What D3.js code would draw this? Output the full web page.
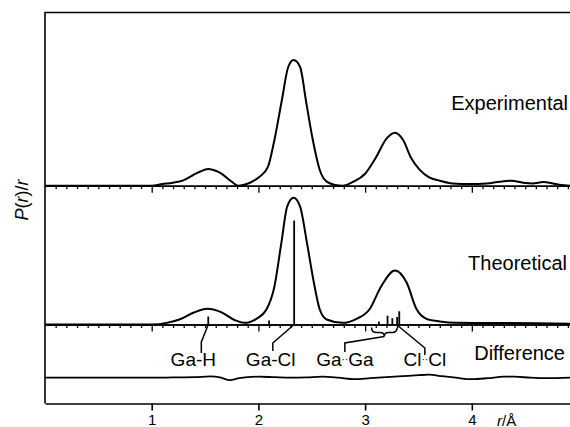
<!DOCTYPE html>
<html>
<head>
<meta charset="utf-8">
<script src="https://cdn.jsdelivr.net/npm/d3@7"></script>
<style>
  body { margin: 0; background: #fff; }
  svg text { font-family: "Liberation Sans", Arial, sans-serif; fill: #000; }
</style>
</head>
<body>
<div id="chart"></div>
<script>
"use strict";

// data (r in Angstrom, P(r)/r relative to main Ga-Cl peak)
var experimental = [
  [0.00, 0], [0.50, 0], [1.00, 0], [1.10, 0.013], [1.20, 0.024], [1.29, 0.040],
  [1.39, 0.085], [1.45, 0.111], [1.53, 0.133], [1.60, 0.119], [1.65, 0.098],
  [1.75, 0.032], [1.81, 0.000], [1.89, 0.013], [1.95, 0.036], [2.01, 0.071],
  [2.09, 0.151], [2.15, 0.363], [2.22, 0.680], [2.28, 0.944], [2.33, 0.998],
  [2.39, 0.944], [2.45, 0.651], [2.51, 0.363], [2.575, 0.125], [2.64, 0.032],
  [2.72, 0.006], [2.79, 0.000], [2.89, 0.032], [3.00, 0.095], [3.10, 0.222],
  [3.20, 0.373], [3.28, 0.421], [3.355, 0.365], [3.43, 0.222], [3.51, 0.127],
  [3.60, 0.066], [3.70, 0.040], [3.82, 0.018], [3.98, 0.013], [4.14, 0.018],
  [4.26, 0.032], [4.37, 0.040], [4.48, 0.024], [4.57, 0.018], [4.67, 0.029],
  [4.76, 0.018], [4.82, 0.008], [4.92, 0]
];

var theoretical = [
  [0.00, 0], [1.00, 0], [1.14, 0.013], [1.26, 0.040], [1.39, 0.093], [1.52, 0.125],
  [1.65, 0.098], [1.78, 0.034], [1.87, 0.013], [1.98, 0.045], [2.075, 0.119],
  [2.15, 0.302], [2.215, 0.648], [2.27, 0.937], [2.33, 1.005], [2.39, 0.937],
  [2.455, 0.648], [2.52, 0.331], [2.575, 0.119], [2.64, 0.040], [2.79, 0.013],
  [2.92, 0.045], [3.04, 0.119], [3.15, 0.302], [3.28, 0.429], [3.39, 0.331],
  [3.48, 0.125], [3.575, 0.045], [3.70, 0.024], [3.85, 0.013], [4.20, 0.012],
  [4.60, 0.010], [4.92, 0.005]
];

var difference = [
  [0.00, 0], [0.50, 0], [1.00, 0], [1.20, 0.002], [1.40, 0.004], [1.55, 0.010],
  [1.65, 0.000], [1.73, -0.020], [1.82, -0.004], [1.90, 0.004], [2.00, 0.008],
  [2.15, 0.004], [2.30, 0.000], [2.45, 0.002], [2.60, 0.008], [2.75, 0.000],
  [2.90, -0.012], [3.05, -0.004], [3.20, 0.004], [3.35, 0.012], [3.50, 0.020],
  [3.60, 0.024], [3.72, 0.012], [3.85, 0.000], [4.00, -0.012], [4.15, -0.004],
  [4.30, 0.008], [4.40, 0.008], [4.55, 0.000], [4.70, -0.004], [4.92, 0]
];

// calculated distances (stick heights)
var sticks = [
  [1.53, 0.063], [2.10, 0.032], [2.335, 0.825],
  [3.13, 0.024], [3.21, 0.070], [3.255, 0.050], [3.30, 0.060], [3.32, 0.105]
];

var bondNames = ["Ga-H", "Ga-Cl", "Ga\u00b7\u00b7Ga", "Cl\u00b7\u00b7Cl"];
var bondFrom  = [1.53, 2.335, 3.18, 3.305];
var bondKnee  = [1.465, 2.135, 2.81, 3.56];
var bondText  = [1.39, 2.115, 2.81, 3.56];

var panelNames = ["Experimental", "Theoretical", "Difference"];
var rTicks = [1, 2, 3, 4];

// layout
var width = 570, height = 427;
var frameLeft = 45, frameTop = 12.5, frameBottom = 403.5;
var base = { exp: 185.7, theo: 324.5, diff: 377.7 };
var unit = 126;

var svg = d3.select("#chart").append("svg")
  .attr("width", width)
  .attr("height", height);

var x = d3.scaleLinear().domain([0, 4.92]).range([frameLeft, width]);

function yFor(b) {
  return d3.scaleLinear().domain([0, 1]).range([b, b - unit]);
}
var yExp = yFor(base.exp), yTheo = yFor(base.theo), yDiff = yFor(base.diff);

// frame
svg.append("path")
  .attr("d", "M" + (width + 5) + "," + frameTop + "H" + frameLeft + "V" + frameBottom)
  .attr("fill", "none").attr("stroke", "#000").attr("stroke-width", 1.6);

// bottom axis
var xAxis = d3.axisBottom(x).tickValues(rTicks).tickSize(7).tickSizeOuter(0).tickPadding(4)
  .tickFormat(d3.format("d"));
var gx = svg.append("g").attr("transform", "translate(0," + frameBottom + ")").call(xAxis);
gx.select(".domain").attr("stroke-width", 1.6);
gx.selectAll(".tick line").attr("stroke-width", 1.6);
gx.selectAll(".tick text").attr("font-size", 15)
  .style("font-family", "'Liberation Sans', Arial, sans-serif");

svg.append("text")
  .attr("x", 497).attr("y", 425.5)
  .attr("font-size", 15)
  .html("<tspan font-style='italic'>r</tspan>/\u00c5");

// baselines with minor ticks
var minorTicks = d3.range(1, 50).map(function(i) { return i / 10; })
  .filter(function(v) { return Math.abs(v - Math.round(v)) > 0.01; });

[base.exp, base.theo].forEach(function(b) {
  var g = svg.append("g").attr("transform", "translate(0," + b + ")");
  g.call(d3.axisBottom(x).tickValues(minorTicks).tickSize(3.5).tickSizeOuter(0).tickFormat(""));
  g.append("g").call(d3.axisBottom(x).tickValues(rTicks).tickSize(7).tickSizeOuter(0).tickFormat(""));
  g.selectAll(".domain").attr("stroke-width", 1.6);
  g.selectAll(".tick line").attr("stroke-width", 1.3);
});

// curves
function drawCurve(data, y, w) {
  var line = d3.line()
    .x(function(d) { return x(d[0]); })
    .y(function(d) { return y(d[1]); })
    .curve(d3.curveMonotoneX);
  svg.append("path")
    .datum(data)
    .attr("d", line)
    .attr("fill", "none")
    .attr("stroke", "#000")
    .attr("stroke-width", w)
    .attr("stroke-linejoin", "round");
}
drawCurve(experimental, yExp, 2);
drawCurve(theoretical, yTheo, 2);
drawCurve(difference, yDiff, 1.8);

// sticks
svg.selectAll(".stick")
  .data(sticks)
  .enter()
  .append("line")
  .attr("class", "stick")
  .attr("x1", function(d) { return x(d[0]); })
  .attr("x2", function(d) { return x(d[0]); })
  .attr("y1", yTheo(0))
  .attr("y2", function(d) { return yTheo(d[1]); })
  .attr("stroke", "#000")
  .attr("stroke-width", 1.8);

// brace under the Ga..Ga distances
var b0 = x(3.06), b1 = x(3.30), bm = x(3.18), by = base.theo + 3;
svg.append("path")
  .attr("d", "M" + b0 + "," + by +
    "Q" + b0 + "," + (by + 5) + " " + (b0 + 5) + "," + (by + 5) +
    "L" + (bm - 4) + "," + (by + 5) +
    "Q" + bm + "," + (by + 5) + " " + bm + "," + (by + 9) +
    "Q" + bm + "," + (by + 5) + " " + (bm + 4) + "," + (by + 5) +
    "L" + (b1 - 5) + "," + (by + 5) +
    "Q" + b1 + "," + (by + 5) + " " + b1 + "," + by)
  .attr("fill", "none").attr("stroke", "#000").attr("stroke-width", 1.5);

// leader lines and bond labels
var fromY = [base.theo, base.theo, base.theo + 12, base.theo + 1];
var kneeY = [342, 343, 343, 348];
var endY  = [353, 351, 352, 355];
bondNames.forEach(function(name, i) {
  svg.append("path")
    .attr("d", "M" + x(bondFrom[i]) + "," + fromY[i] +
      "L" + x(bondKnee[i]) + "," + kneeY[i] +
      "V" + endY[i])
    .attr("fill", "none").attr("stroke", "#000").attr("stroke-width", 1.5);

  var parts = name.split("\u00b7\u00b7");
  var t = svg.append("text")
    .attr("x", x(bondText[i])).attr("y", 366)
    .attr("text-anchor", "middle")
    .attr("font-size", 19);
  if (parts.length === 2) {
    t.append("tspan").text(parts[0]);
    t.append("tspan").attr("font-size", 10).attr("dy", -3).text("\u00b7\u00b7");
    t.append("tspan").attr("dy", 3).text(parts[1]);
  } else {
    t.text(name);
  }
});

// panel names
var panelY = [110, 270, 360];
var panelX = [568, 567, 565];
panelNames.forEach(function(n, i) {
  svg.append("text")
    .attr("x", panelX[i]).attr("y", panelY[i])
    .attr("text-anchor", "end")
    .attr("font-size", 20)
    .text(n);
});

// y label
svg.append("text")
  .attr("transform", "translate(28,200) rotate(-90)")
  .attr("text-anchor", "middle")
  .attr("font-size", 18)
  .html("<tspan font-style='italic'>P</tspan>(<tspan font-style='italic'>r</tspan>)/<tspan font-style='italic'>r</tspan>");
</script>
</body>
</html>
